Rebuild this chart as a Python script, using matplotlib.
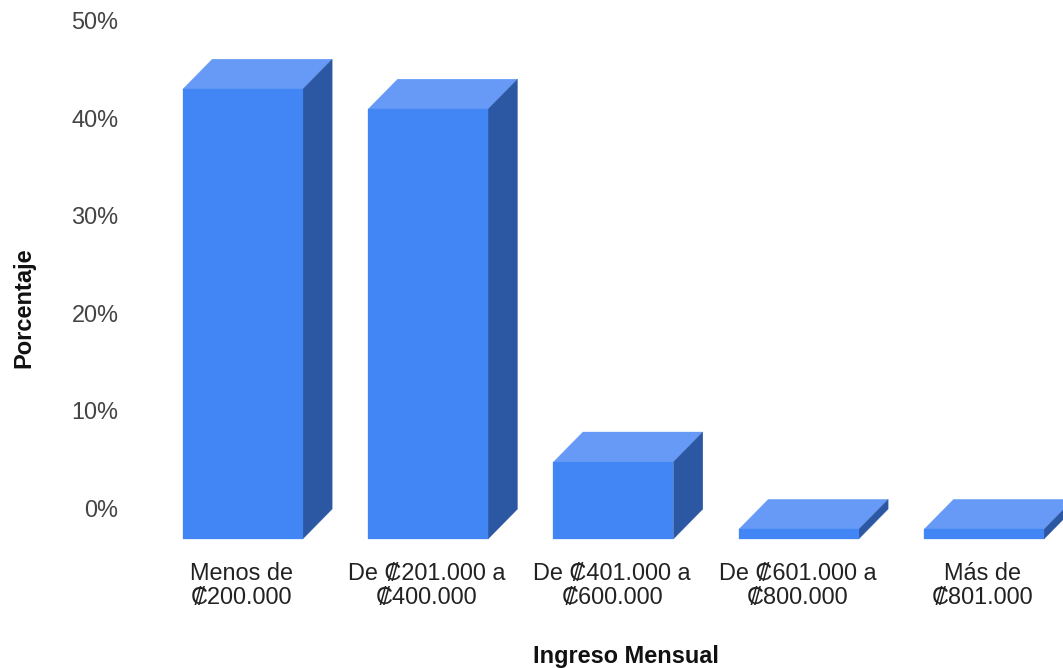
"""Ingreso mensual: columnas con efecto 3D"""
import matplotlib
matplotlib.use("Agg")
import matplotlib.pyplot as plt
from matplotlib.patches import Polygon

plt.rcParams['font.family'] = ['Liberation Sans', 'DejaVu Sans']

categorias = ["Menos de\n₡200.000", "De ₡201.000 a\n₡400.000", "De ₡401.000 a\n₡600.000",
              "De ₡601.000 a\n₡800.000", "Más de\n₡801.000"]
porcentajes = [46.1, 44.05, 7.9, 1.0, 1.0]
ticks = [0, 10, 20, 30, 40, 50]

W, H = 1063, 668
ANCHO = 0.647    # ancho de la columna
DX = 0.159       # profundidad en x
DY = 3.07        # profundidad en y

COLOR_FRENTE = "#4285F4"
COLOR_TAPA = "#669AF6"
COLOR_LADO = "#2C57A2"

fig = plt.figure(figsize=(W / 100, H / 100), dpi=100)
ax = fig.add_axes([0, 0, 1, 1])
ax.set_xlim(-1.310, 4.426)
ax.set_ylim(-13.21, 55.23)
ax.axis("off")

for i, v in enumerate(porcentajes):
    x0, x1 = i - ANCHO / 2, i + ANCHO / 2
    ax.add_patch(Polygon([(x0, v), (x1, v), (x1 + DX, v + DY), (x0 + DX, v + DY)],
                         fc=COLOR_TAPA, ec=COLOR_TAPA, lw=0.2))
    ax.add_patch(Polygon([(x1, 0), (x1 + DX, DY), (x1 + DX, v + DY), (x1, v)],
                         fc=COLOR_LADO, ec=COLOR_LADO, lw=0.2))
    ax.add_patch(Polygon([(x0, 0), (x1, 0), (x1, v), (x0, v)],
                         fc=COLOR_FRENTE, ec=COLOR_FRENTE, lw=0.2))
    ax.text(i - 0.006, -2.3, categorias[i], ha="center", va="top", fontsize=16.9,
            color="#222222", linespacing=1.08)

# las etiquetas del eje van sobre la pared del fondo
for t in ticks:
    ax.text(-0.67, t + DY - 0.15, f"{t}%", ha="right", va="center", fontsize=16.9, color="#444444")

fig.text(626 / W, 1 - 656 / H, "Ingreso Mensual", ha="center", va="center",
         fontsize=16.9, fontweight="bold", color="#111111")
fig.text(24 / W, 1 - 308 / H, "Porcentaje", ha="center", va="center", rotation=90,
         fontsize=17, fontweight="bold", color="#111111")

fig.savefig("out.png", dpi=100)
plt.close(fig)
